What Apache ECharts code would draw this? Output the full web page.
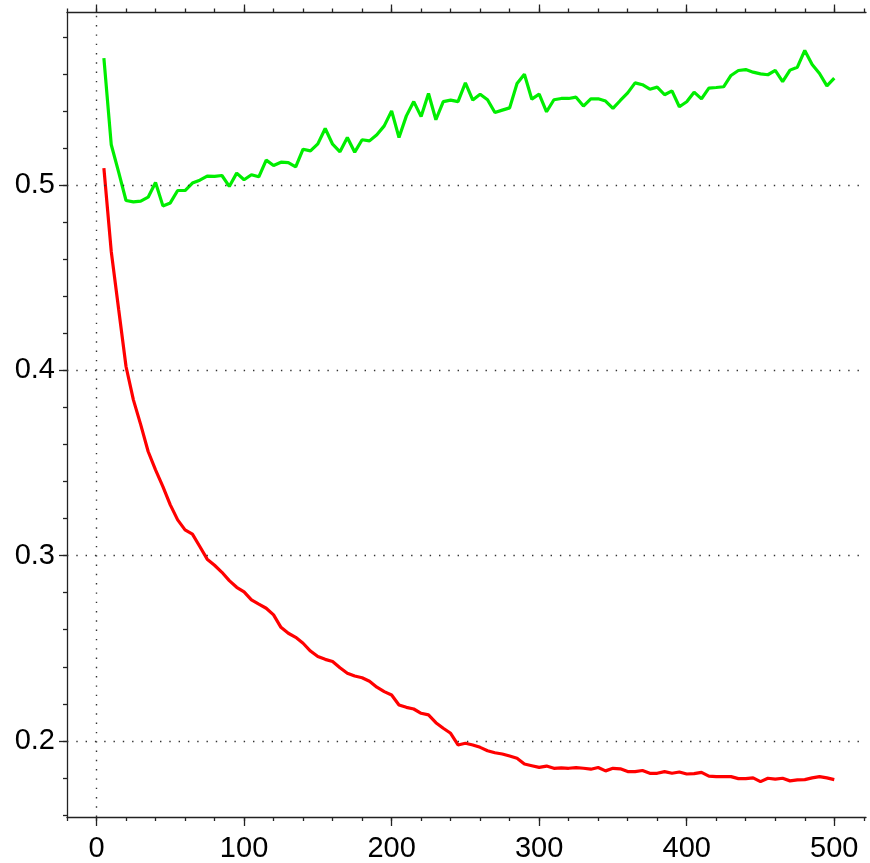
<!DOCTYPE html>
<html>
<head>
<meta charset="utf-8">
<script src="https://cdn.jsdelivr.net/npm/echarts@6/dist/echarts.min.js"></script>
<style>
  html, body { margin: 0; padding: 0; background: #fff; }
  #chart { width: 870px; height: 863px; }
</style>
</head>
<body>
<div id="chart"></div>
<script>
// sample positions (iterations)
const steps = [5,10,15,20,25,30,35,40,45,50,55,60,65,70,75,80,85,90,95,100,
  105,110,115,120,125,130,135,140,145,150,155,160,165,170,175,180,185,190,195,200,
  205,210,215,220,225,230,235,240,245,250,255,260,265,270,275,280,285,290,295,300,
  305,310,315,320,325,330,335,340,345,350,355,360,365,370,375,380,385,390,395,400,
  405,410,415,420,425,430,435,440,445,450,455,460,465,470,475,480,485,490,495,500];

// green series
const greenValues = [0.5686,0.5218,0.507,0.4917,0.491,0.4914,0.4935,0.5014,0.4888,0.4904,
  0.4971,0.4971,0.5011,0.5027,0.5049,0.5047,0.5052,0.4993,0.5065,0.5029,
  0.5056,0.5045,0.5135,0.5106,0.5124,0.5122,0.5099,0.5194,0.5185,0.5223,
  0.5306,0.5221,0.518,0.5257,0.5178,0.5245,0.5239,0.5272,0.532,0.5401,
  0.5257,0.5374,0.5451,0.537,0.5495,0.5353,0.5451,0.5459,0.5451,0.5552,
  0.5459,0.5491,0.5461,0.5392,0.5405,0.5417,0.5549,0.5599,0.5464,0.5491,
  0.5396,0.5461,0.5468,0.5468,0.5475,0.5427,0.5466,0.5466,0.5454,0.5414,
  0.5457,0.5498,0.5552,0.5542,0.5518,0.5529,0.5488,0.5509,0.5423,0.545,
  0.5502,0.5466,0.5524,0.5527,0.5531,0.5592,0.5619,0.5624,0.561,0.5601,
  0.5596,0.5619,0.5559,0.5621,0.5637,0.5727,0.5651,0.5603,0.5536,0.5578];

// red series
const redValues = [0.5092,0.4641,0.433,0.4021,0.3841,0.3706,0.3562,0.3463,0.3373,0.3274,
  0.3193,0.3139,0.3116,0.3049,0.2981,0.2948,0.291,0.2865,0.2829,0.2804,
  0.2761,0.2738,0.2716,0.268,0.2613,0.2581,0.2559,0.2527,0.2485,0.2455,
  0.244,0.2428,0.2395,0.2365,0.235,0.2341,0.2322,0.229,0.2266,0.2248,
  0.2194,0.2181,0.2172,0.2149,0.214,0.2098,0.2068,0.2041,0.1978,0.1987,
  0.1978,0.1965,0.1947,0.1936,0.1929,0.1918,0.1906,0.1875,0.1866,0.1857,
  0.1864,0.1852,0.1854,0.1852,0.1856,0.1852,0.1847,0.1856,0.1838,0.1852,
  0.1849,0.1834,0.1834,0.184,0.1825,0.1825,0.1834,0.1825,0.1832,0.1821,
  0.1823,0.183,0.181,0.1807,0.1807,0.1807,0.1796,0.1796,0.18,0.178,
  0.1798,0.1793,0.1798,0.1784,0.1789,0.1791,0.18,0.1807,0.18,0.1791];

// tick positions and labels
const xMinorTicks = [-20,0,20,40,60,80,100,120,140,160,180,200,220,240,260,280,300,320,340,360,380,400,420,440,460,480,500,520];
const xMajorTicks = [0,100,200,300,400,500];
const yMinorTicks = [0.16,0.18,0.2,0.22,0.24,0.26,0.28,0.3,0.32,0.34,0.36,0.38,0.4,0.42,0.44,0.46,0.48,0.5,0.52,0.54,0.56,0.58];
const yMajorTicks = [0.2,0.3,0.4,0.5];
const yLabels = ['0.2','0.3','0.4','0.5'];

const X_MIN = -20, X_MAX = 521.5;
const Y_MIN = 0.1589, Y_MAX = 0.5932;

const axisColor = '#222';
const labelFont = { color: '#000', fontSize: 29, fontFamily: 'Liberation Sans, Arial, sans-serif' };

function xAxisDef(position, ticks, len, showLine, labels) {
  return {
    type: 'value', position: position, min: X_MIN, max: X_MAX,
    axisLine: { show: showLine, onZero: false, lineStyle: { color: axisColor, width: 1.3 } },
    axisTick: { show: true, inside: false, length: len, customValues: ticks, lineStyle: { color: axisColor, width: 1.3 } },
    axisLabel: labels ? Object.assign({ show: true, margin: 17, customValues: labels }, labelFont) : { show: false },
    splitLine: { show: false }
  };
}

function yAxisDef(ticks, len, showLine, labels) {
  return {
    type: 'value', position: 'left', min: Y_MIN, max: Y_MAX,
    axisLine: { show: showLine, onZero: false, lineStyle: { color: axisColor, width: 1.3 } },
    axisTick: { show: true, inside: false, length: len, customValues: ticks, lineStyle: { color: axisColor, width: 1.3 } },
    axisLabel: labels ? Object.assign({
      show: true, margin: 12, customValues: labels,
      formatter: v => yLabels[yMajorTicks.findIndex(t => Math.abs(t - v) < 1e-6)] || ''
    }, labelFont) : { show: false },
    splitLine: { show: false }
  };
}

const dotted = { type: [1.4, 7.9], color: '#333', width: 1.4 };

const chart = echarts.init(document.getElementById('chart'), null, { renderer: 'canvas' });
chart.setOption({
  animation: false,
  backgroundColor: '#fff',
  grid: { left: 67, right: 4, top: 12.5, bottom: 45.5, containLabel: false },
  xAxis: [
    xAxisDef('bottom', xMinorTicks, 4, true, null),
    xAxisDef('bottom', xMajorTicks, 9, false, xMajorTicks),
    xAxisDef('top', xMinorTicks, 4, true, null),
    xAxisDef('top', xMajorTicks, 8, false, null)
  ],
  yAxis: [
    yAxisDef(yMinorTicks, 4, true, null),
    yAxisDef(yMajorTicks, 8, false, yMajorTicks)
  ],
  series: [
    {
      type: 'line', name: 'grid', data: [], xAxisIndex: 0, yAxisIndex: 0,
      silent: true,
      markLine: {
        silent: true, symbol: 'none', label: { show: false },
        lineStyle: dotted,
        data: [{ xAxis: 0 }].concat(yMajorTicks.map(v => ({ yAxis: v })))
      }
    },
    {
      type: 'line', name: 'green', xAxisIndex: 0, yAxisIndex: 0,
      data: steps.map((s, i) => [s, greenValues[i]]),
      showSymbol: false, smooth: false,
      lineStyle: { color: '#00ee00', width: 3.2 }, z: 3
    },
    {
      type: 'line', name: 'red', xAxisIndex: 0, yAxisIndex: 0,
      data: steps.map((s, i) => [s, redValues[i]]),
      showSymbol: false, smooth: false,
      lineStyle: { color: '#ff0000', width: 3.2 }, z: 3
    }
  ]
});
</script>
</body>
</html>
